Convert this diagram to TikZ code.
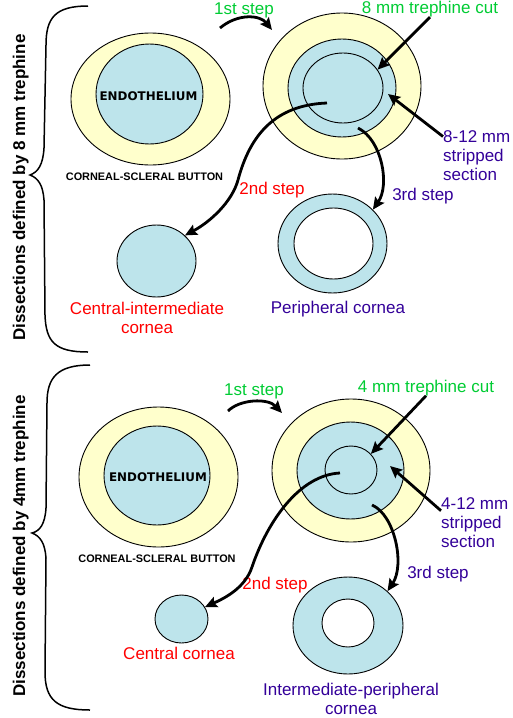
\documentclass[tikz,border=0pt]{standalone}
\usepackage{fontspec}
\setmainfont{Liberation Sans}
\newfontfamily\heavyfont{DejaVu Sans}
\usetikzlibrary{shapes.geometric,arrows.meta}

\definecolor{scleracol}{RGB}{255,255,204}
\definecolor{endocol}{RGB}{189,228,235}
\definecolor{stepgreen}{RGB}{0,204,51}
\definecolor{stepviolet}{RGB}{51,0,153}
\definecolor{stepred}{RGB}{255,0,0}

\begin{document}
\begin{tikzpicture}[x=1pt, y=-1pt,
    disc/.style={ellipse, draw, line width=0.9pt, inner sep=0pt},
    sclera/.style={disc, fill=scleracol},
    endo/.style={disc, fill=endocol},
    hole/.style={disc, fill=white},
    arr/.style={-{Stealth[length=12pt, width=11pt, inset=2pt]}, line width=2.8pt},
    lbl/.style={font=\fontsize{17}{19}\selectfont, inner sep=0pt, align=center},
    tag/.style={font=\fontsize{10.9}{12}\selectfont\bfseries, inner sep=0pt},
    endotxt/.style={font=\fontsize{11.9}{13}\selectfont\heavyfont\bfseries, inner sep=0pt},
    side/.style={font=\fontsize{17}{19}\selectfont\bfseries, inner sep=0pt, rotate=90, anchor=base},
    brace/.style={line width=1.5pt}
  ]
  \useasboundingbox (0,0) rectangle (512,718);

  % --- 8 mm trephine ---
  \node[sclera, minimum width=159pt, minimum height=132pt] (btnA) at (150.5,99) {};
  \node[endo, minimum width=107pt, minimum height=100pt] (endoA) at (149.5,94) {};
  \node[endotxt, anchor=base] (endolblA) at (148.5,100) {ENDOTHELIUM};
  \node[tag, anchor=base] (btnlblA) at (144.5,180) {CORNEAL-SCLERAL BUTTON};

  \node[sclera, minimum width=158pt, minimum height=146pt] (cutA) at (342,86) {};
  \node[endo, minimum width=108pt, minimum height=98pt] (ringA) at (342,88) {};
  \node[disc, minimum width=80pt, minimum height=70pt] (tinA) at (343,88) {};

  \node[endo, minimum width=79pt, minimum height=72pt] (cicA) at (156.5,261) {};
  \node[endo, minimum width=109pt, minimum height=99pt] (perA) at (332.5,243.5) {};
  \node[hole, minimum width=79pt, minimum height=71pt] (perholeA) at (333.5,243.5) {};

  \node[lbl, text=stepgreen, anchor=base] (s1lblA) at (244,14) {1st step};
  \node[lbl, text=stepgreen, anchor=base] (cutlblA) at (430,13.3) {8 mm trephine cut};
  \node[lbl, text=stepviolet, align=left, anchor=west] (strlblA) at (443,156) {8-12 mm\\stripped\\section};
  \node[lbl, text=stepred, anchor=base] (s2lblA) at (272,194) {2nd step};
  \node[lbl, text=stepviolet, anchor=base] (s3lblA) at (423,200) {3rd step};
  \node[lbl, text=stepred, anchor=north] (ciclblA) at (147,302) {Central-intermediate\\cornea};
  \node[lbl, text=stepviolet, anchor=base] (perlblA) at (338,313) {Peripheral cornea};

  \node[side] (sideA) at (25,187.5) {Dissections defined by 8 mm trephine};
  \draw[brace] (88,6) .. controls (55,6) and (46,18) .. (46,45) -- (44,148)
    .. controls (43,165) and (38,172) .. (30,175)
    .. controls (38,178) and (43,185) .. (44,200) -- (45,315)
    .. controls (46,342) and (55,352) .. (88,352);

  \coordinate (f1A) at (220,28);
  \coordinate (t1A) at (272,30);
  \draw[arr] (f1A) .. controls (238,13) and (260,15) .. (t1A);
  \draw[arr] (cutlblA.south) -- (tinA.28);
  \coordinate (gapA) at (388,94);
  \draw[arr] (strlblA.150) -- (gapA);
  \coordinate (f2A) at (327,103);
  \draw[arr] (f2A) .. controls (275,105) and (250,135) .. (238,180)
    .. controls (232,202) and (210,222) .. (cicA.42);
  \coordinate (f3A) at (358,128);
  \draw[arr] (f3A) .. controls (382,140) and (390,185) .. (perA.40);

  % --- 4 mm trephine ---
  \node[sclera, minimum width=159pt, minimum height=140pt] (btnB) at (158.5,477) {};
  \node[endo, minimum width=106pt, minimum height=99pt] (endoB) at (157,475.5) {};
  \node[endotxt, anchor=base] (endolblB) at (158,481) {ENDOTHELIUM};
  \node[tag, anchor=base] (btnlblB) at (157,562) {CORNEAL-SCLERAL BUTTON};

  \node[sclera, minimum width=158pt, minimum height=143pt] (cutB) at (351,470.5) {};
  \node[endo, minimum width=107pt, minimum height=97pt] (ringB) at (350.5,470.5) {};
  \node[disc, minimum width=52pt, minimum height=48pt] (tinB) at (351,470) {};

  \node[endo, minimum width=53pt, minimum height=48pt] (ccB) at (181.5,619) {};
  \node[endo, minimum width=110pt, minimum height=97pt] (ipB) at (348,625.5) {};
  \node[hole, minimum width=52pt, minimum height=48pt] (ipholeB) at (348,623) {};

  \node[lbl, text=stepgreen, anchor=base] (s1lblB) at (254,395) {1st step};
  \node[lbl, text=stepgreen, anchor=base] (cutlblB) at (426,392) {4 mm trephine cut};
  \node[lbl, text=stepviolet, align=left, anchor=west] (strlblB) at (441,523) {4-12 mm\\stripped\\section};
  \node[lbl, text=stepred, anchor=base] (s2lblB) at (275,589) {2nd step};
  \node[lbl, text=stepviolet, anchor=base] (s3lblB) at (438,578) {3rd step};
  \node[lbl, text=stepred, anchor=base] (cclblB) at (179,659) {Central cornea};
  \node[lbl, text=stepviolet, anchor=north] (iplblB) at (351,683) {Intermediate-peripheral\\cornea};

  \node[side] (sideB) at (25,546) {Dissections defined by 4mm trephine};
  \draw[brace] (90,365) .. controls (57,365) and (47,378) .. (47,403) -- (46,508)
    .. controls (45,524) and (40,531) .. (32,533)
    .. controls (40,536) and (45,543) .. (46,558) -- (45,672)
    .. controls (45,700) and (57,710) .. (90,710);

  \coordinate (f1B) at (228,411);
  \coordinate (t1B) at (282,413);
  \draw[arr] (f1B) .. controls (240,399) and (268,398) .. (t1B);
  \draw[arr] (cutlblB.south) -- (tinB.39);
  \coordinate (gapB) at (390,466);
  \draw[arr] (strlblB.160) -- (gapB);
  \coordinate (f2B) at (340,473);
  \draw[arr] (f2B) .. controls (300,475) and (268,520) .. (252,567)
    .. controls (245,588) and (225,598) .. (ccB.27);
  \coordinate (f3B) at (372,505);
  \draw[arr] (f3B) .. controls (395,515) and (405,565) .. (ipB.41);
\end{tikzpicture}
\end{document}
